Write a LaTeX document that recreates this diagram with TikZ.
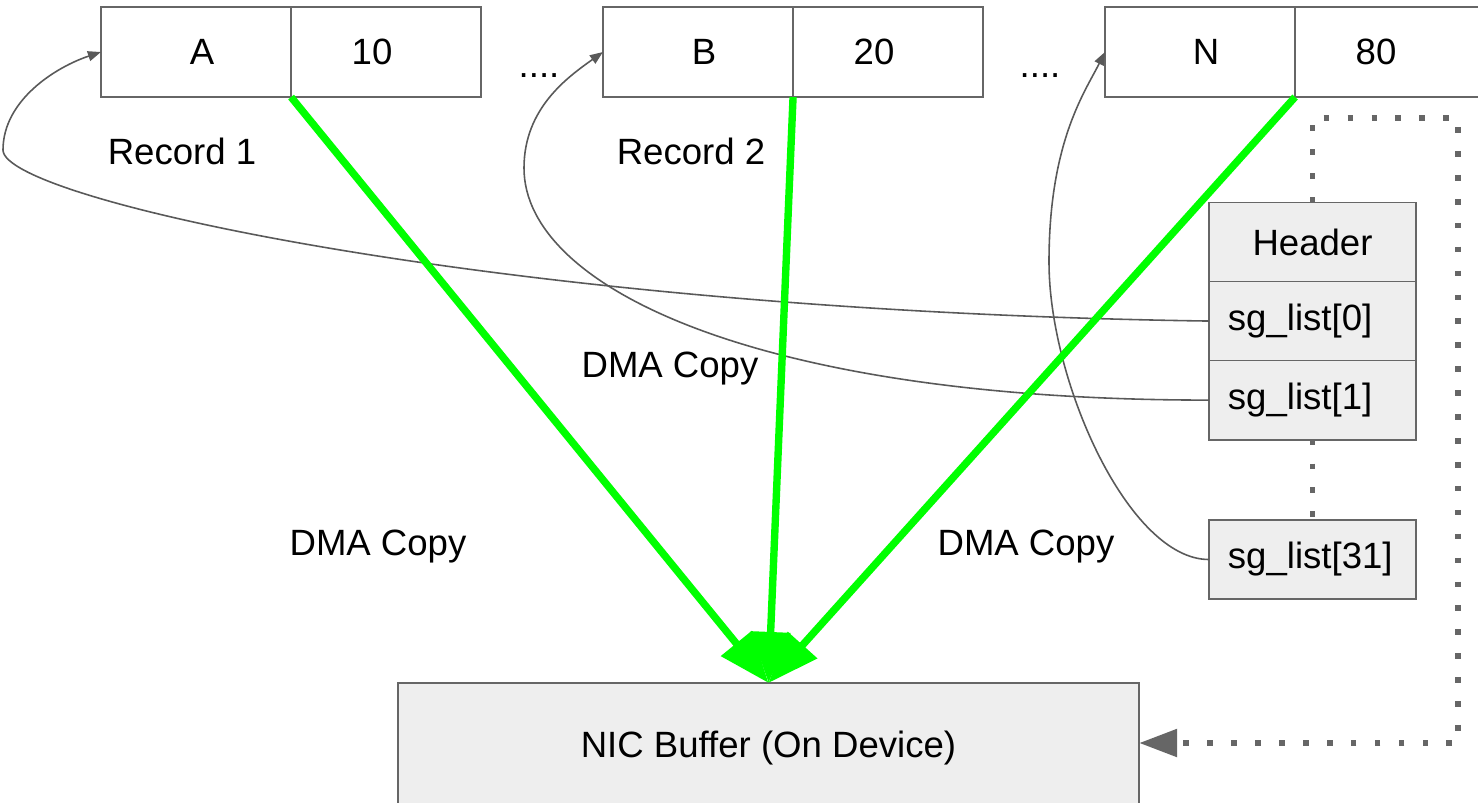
\documentclass[tikz,border=0pt]{standalone}
\usepackage{fontspec}
\setmainfont{Liberation Sans}
\usetikzlibrary{arrows.meta,positioning}

\definecolor{boxline}{HTML}{666666}
\definecolor{linkgray}{HTML}{595959}
\definecolor{cellfill}{HTML}{EEEEEE}
\definecolor{dmagreen}{HTML}{00FF00}

\begin{document}
\begin{tikzpicture}[x=0.01cm,y=-0.01cm,
		font=\fontsize{10.4}{12.5}\selectfont,
		cell/.style={draw=boxline, line width=0.5pt, outer sep=0pt, inner sep=0pt,
			minimum width=1.9cm, minimum height=0.9cm},
		sgcell/.style={draw=boxline, fill=cellfill, line width=0.5pt, outer sep=0pt,
			inner xsep=0.19cm, inner ysep=0pt, text width=1.69cm, align=left,
			minimum height=0.79cm},
		link/.style={draw=linkgray, line width=0.45pt, -{Triangle[length=0.13cm,width=0.1cm]}},
		dma/.style={draw=dmagreen, line width=2.1pt, -{Triangle[length=0.51cm,width=0.38cm]}},
		dots/.style={draw=boxline, line width=1.6pt, dash pattern=on 1.6pt off 5.2pt},
	]
	\useasboundingbox (0,0) rectangle (1478,802);

	% records
	\node[cell, label={[xshift=1.7pt]center:A}]   (recA) at (196,52) {};
	\node[cell, right=0pt of recA, label={[xshift=-4pt]center:10}] (valA) {};
	\node[cell, label={[xshift=1.7pt]center:B}]   (recB) at (698,52) {};
	\node[cell, right=0pt of recB, label={[xshift=-4pt]center:20}] (valB) {};
	\node[cell, label={[xshift=1.7pt]center:N}]   (recN) at (1200,52) {};
	\node[cell, right=0pt of recN, label={[xshift=-4pt]center:80}] (valN) {};

	\node[anchor=base] (gapB) at (539,77) {....};
	\node[anchor=base] (gapN) at (1040,77) {....};
	\node (lblRec1) at (182,151) {Record 1};
	\node (lblRec2) at (691,151) {Record 2};

	% scatter-gather list
	\node[sgcell, align=center] (hdr) at (1312.5,242) {Header};
	\node[sgcell, below=0pt of hdr] (sg0) {sg\_list[0]};
	\node[sgcell, below=0pt of sg0] (sg1) {sg\_list[1]};
	\node[sgcell] (sg31) at (1312.5,559.5) {sg\_list[31]};

	% device buffer
	\node[draw=boxline, fill=cellfill, line width=0.5pt, outer sep=0pt,
		minimum width=7.41cm, minimum height=1.3cm] (nic) at (768.5,748) {NIC Buffer (On Device)};

	\node (dma1) at (378,547) {DMA Copy};
	\node (dma2) at (670,369) {DMA Copy};
	\node (dma3) at (1026,547) {DMA Copy};

	% pointers back to the records
	\coordinate (bendA) at (3,150);
	\coordinate (bendB) at (524,168);
	\coordinate (bendN) at (1049,262);
	\draw[link] (sg0.west) .. controls +(-700,-10) and +(0,50) .. (bendA)
		.. controls +(0,-50) and +(-45,15) .. (recA.west);
	\draw[link] (sg1.west) .. controls +(-450,0) and +(0,120) .. (bendB)
		.. controls +(0,-60) and +(-35,25) .. (recB.west);
	\draw[link] (sg31.west) .. controls +(-80,0) and +(0,120) .. (bendN)
		.. controls +(0,-120) and +(-20,40) .. (recN.west);

	% dma copies
	\draw[dma] (recA.south east) -- (nic.north);
	\draw[dma] (recB.south east) -- (nic.north);
	\draw[dma] (recN.south east) -- (nic.north);

	% dotted links
	\coordinate (loopTop) at (1458,118);
	\draw[dots] (sg1.south) -- (sg31.north);
	\draw[dots, -{Triangle[length=0.38cm,width=0.27cm]}] (hdr.north) |- (loopTop)
		|- ([yshift=0.05cm]nic.east);
\end{tikzpicture}
\end{document}
